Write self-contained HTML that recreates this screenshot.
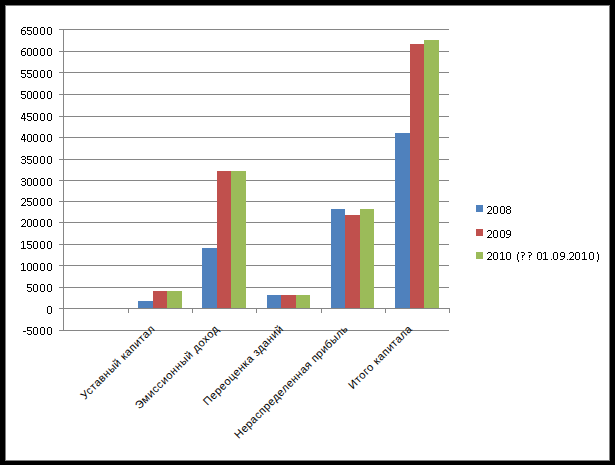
<!DOCTYPE html>
<html><head><meta charset="utf-8"><style>
html,body{margin:0;padding:0;width:615px;height:465px;overflow:hidden;background:#fff}
svg{display:block}
text{font-family:"Liberation Sans",sans-serif;font-size:11px;fill:#000;letter-spacing:0.45px}
</style></head><body>
<svg width="615" height="465" viewBox="0 0 615 465"><rect x="0" y="0" width="615" height="465" fill="#000"/><rect x="5" y="5" width="605" height="456" fill="#808080"/><rect x="6" y="6" width="603" height="454" fill="#fff"/><rect x="59" y="29" width="390" height="1" fill="#868686"/><rect x="59" y="51" width="390" height="1" fill="#868686"/><rect x="59" y="72" width="390" height="1" fill="#868686"/><rect x="59" y="94" width="390" height="1" fill="#868686"/><rect x="59" y="116" width="390" height="1" fill="#868686"/><rect x="59" y="137" width="390" height="1" fill="#868686"/><rect x="59" y="159" width="390" height="1" fill="#868686"/><rect x="59" y="180" width="390" height="1" fill="#868686"/><rect x="59" y="201" width="390" height="1" fill="#868686"/><rect x="59" y="222" width="390" height="1" fill="#868686"/><rect x="59" y="244" width="390" height="1" fill="#868686"/><rect x="59" y="265" width="390" height="1" fill="#868686"/><rect x="59" y="287" width="390" height="1" fill="#868686"/><rect x="59" y="308" width="390" height="1" fill="#868686"/><rect x="59" y="330" width="390" height="1" fill="#868686"/><rect x="138" y="301" width="15" height="7" fill="#4f81bd"/><rect x="139" y="302" width="13" height="6" fill="#4f81bd"/><rect x="153" y="291" width="14" height="17" fill="#c0504d"/><rect x="154" y="292" width="12" height="16" fill="#c0504d"/><rect x="167" y="291" width="15" height="17" fill="#9bbb59"/><rect x="168" y="292" width="13" height="16" fill="#9bbb59"/><rect x="202" y="248" width="15" height="60" fill="#4f81bd"/><rect x="203" y="249" width="13" height="59" fill="#4f81bd"/><rect x="217" y="171" width="14" height="137" fill="#c0504d"/><rect x="218" y="172" width="12" height="136" fill="#c0504d"/><rect x="231" y="171" width="15" height="137" fill="#9bbb59"/><rect x="232" y="172" width="13" height="136" fill="#9bbb59"/><rect x="267" y="295" width="14" height="13" fill="#4f81bd"/><rect x="268" y="296" width="12" height="12" fill="#4f81bd"/><rect x="281" y="295" width="15" height="13" fill="#c0504d"/><rect x="282" y="296" width="13" height="12" fill="#c0504d"/><rect x="296" y="295" width="14" height="13" fill="#9bbb59"/><rect x="297" y="296" width="12" height="12" fill="#9bbb59"/><rect x="331" y="209" width="14" height="99" fill="#4f81bd"/><rect x="332" y="210" width="12" height="98" fill="#4f81bd"/><rect x="345" y="215" width="15" height="93" fill="#c0504d"/><rect x="346" y="216" width="13" height="92" fill="#c0504d"/><rect x="360" y="209" width="14" height="99" fill="#9bbb59"/><rect x="361" y="210" width="12" height="98" fill="#9bbb59"/><rect x="395" y="133" width="15" height="175" fill="#4f81bd"/><rect x="396" y="134" width="13" height="174" fill="#4f81bd"/><rect x="410" y="44" width="14" height="264" fill="#c0504d"/><rect x="411" y="45" width="12" height="263" fill="#c0504d"/><rect x="424" y="40" width="15" height="268" fill="#9bbb59"/><rect x="425" y="41" width="13" height="267" fill="#9bbb59"/><rect x="59" y="308" width="390" height="1" fill="#868686"/><rect x="63" y="29" width="1" height="302" fill="#868686"/><rect x="128" y="308" width="1" height="5" fill="#868686"/><rect x="192" y="308" width="1" height="5" fill="#868686"/><rect x="256" y="308" width="1" height="5" fill="#868686"/><rect x="321" y="308" width="1" height="5" fill="#868686"/><rect x="385" y="308" width="1" height="5" fill="#868686"/><rect x="449" y="308" width="1" height="5" fill="#868686"/><path fill="#000" d="M23 27h3v1h-3zM22 28h1v1h-1zM21 29h1v1h-1zM21 30h4v1h-4zM21 31h1v1h-1zM25 31h1v1h-1zM21 32h1v1h-1zM25 32h1v1h-1zM21 33h1v1h-1zM25 33h1v1h-1zM22 34h3v1h-3zM27 27h5v1h-5zM27 28h1v1h-1zM27 29h1v1h-1zM27 30h4v1h-4zM31 31h1v1h-1zM31 32h1v1h-1zM27 33h1v1h-1zM31 33h1v1h-1zM28 34h3v1h-3zM34 27h3v1h-3zM33 28h1v1h-1zM37 28h1v1h-1zM33 29h1v1h-1zM37 29h1v1h-1zM33 30h1v1h-1zM37 30h1v1h-1zM33 31h1v1h-1zM37 31h1v1h-1zM33 32h1v1h-1zM37 32h1v1h-1zM33 33h1v1h-1zM37 33h1v1h-1zM34 34h3v1h-3zM41 27h3v1h-3zM40 28h1v1h-1zM44 28h1v1h-1zM40 29h1v1h-1zM44 29h1v1h-1zM40 30h1v1h-1zM44 30h1v1h-1zM40 31h1v1h-1zM44 31h1v1h-1zM40 32h1v1h-1zM44 32h1v1h-1zM40 33h1v1h-1zM44 33h1v1h-1zM41 34h3v1h-3zM48 27h3v1h-3zM47 28h1v1h-1zM51 28h1v1h-1zM47 29h1v1h-1zM51 29h1v1h-1zM47 30h1v1h-1zM51 30h1v1h-1zM47 31h1v1h-1zM51 31h1v1h-1zM47 32h1v1h-1zM51 32h1v1h-1zM47 33h1v1h-1zM51 33h1v1h-1zM48 34h3v1h-3zM23 48h3v1h-3zM22 49h1v1h-1zM21 50h1v1h-1zM21 51h4v1h-4zM21 52h1v1h-1zM25 52h1v1h-1zM21 53h1v1h-1zM25 53h1v1h-1zM21 54h1v1h-1zM25 54h1v1h-1zM22 55h3v1h-3zM28 48h3v1h-3zM27 49h1v1h-1zM31 49h1v1h-1zM27 50h1v1h-1zM31 50h1v1h-1zM27 51h1v1h-1zM31 51h1v1h-1zM27 52h1v1h-1zM31 52h1v1h-1zM27 53h1v1h-1zM31 53h1v1h-1zM27 54h1v1h-1zM31 54h1v1h-1zM28 55h3v1h-3zM34 48h3v1h-3zM33 49h1v1h-1zM37 49h1v1h-1zM33 50h1v1h-1zM37 50h1v1h-1zM33 51h1v1h-1zM37 51h1v1h-1zM33 52h1v1h-1zM37 52h1v1h-1zM33 53h1v1h-1zM37 53h1v1h-1zM33 54h1v1h-1zM37 54h1v1h-1zM34 55h3v1h-3zM41 48h3v1h-3zM40 49h1v1h-1zM44 49h1v1h-1zM40 50h1v1h-1zM44 50h1v1h-1zM40 51h1v1h-1zM44 51h1v1h-1zM40 52h1v1h-1zM44 52h1v1h-1zM40 53h1v1h-1zM44 53h1v1h-1zM40 54h1v1h-1zM44 54h1v1h-1zM41 55h3v1h-3zM48 48h3v1h-3zM47 49h1v1h-1zM51 49h1v1h-1zM47 50h1v1h-1zM51 50h1v1h-1zM47 51h1v1h-1zM51 51h1v1h-1zM47 52h1v1h-1zM51 52h1v1h-1zM47 53h1v1h-1zM51 53h1v1h-1zM47 54h1v1h-1zM51 54h1v1h-1zM48 55h3v1h-3zM21 70h5v1h-5zM21 71h1v1h-1zM21 72h1v1h-1zM21 73h4v1h-4zM25 74h1v1h-1zM25 75h1v1h-1zM21 76h1v1h-1zM25 76h1v1h-1zM22 77h3v1h-3zM27 70h5v1h-5zM27 71h1v1h-1zM27 72h1v1h-1zM27 73h4v1h-4zM31 74h1v1h-1zM31 75h1v1h-1zM27 76h1v1h-1zM31 76h1v1h-1zM28 77h3v1h-3zM34 70h3v1h-3zM33 71h1v1h-1zM37 71h1v1h-1zM33 72h1v1h-1zM37 72h1v1h-1zM33 73h1v1h-1zM37 73h1v1h-1zM33 74h1v1h-1zM37 74h1v1h-1zM33 75h1v1h-1zM37 75h1v1h-1zM33 76h1v1h-1zM37 76h1v1h-1zM34 77h3v1h-3zM41 70h3v1h-3zM40 71h1v1h-1zM44 71h1v1h-1zM40 72h1v1h-1zM44 72h1v1h-1zM40 73h1v1h-1zM44 73h1v1h-1zM40 74h1v1h-1zM44 74h1v1h-1zM40 75h1v1h-1zM44 75h1v1h-1zM40 76h1v1h-1zM44 76h1v1h-1zM41 77h3v1h-3zM48 70h3v1h-3zM47 71h1v1h-1zM51 71h1v1h-1zM47 72h1v1h-1zM51 72h1v1h-1zM47 73h1v1h-1zM51 73h1v1h-1zM47 74h1v1h-1zM51 74h1v1h-1zM47 75h1v1h-1zM51 75h1v1h-1zM47 76h1v1h-1zM51 76h1v1h-1zM48 77h3v1h-3zM21 91h5v1h-5zM21 92h1v1h-1zM21 93h1v1h-1zM21 94h4v1h-4zM25 95h1v1h-1zM25 96h1v1h-1zM21 97h1v1h-1zM25 97h1v1h-1zM22 98h3v1h-3zM28 91h3v1h-3zM27 92h1v1h-1zM31 92h1v1h-1zM27 93h1v1h-1zM31 93h1v1h-1zM27 94h1v1h-1zM31 94h1v1h-1zM27 95h1v1h-1zM31 95h1v1h-1zM27 96h1v1h-1zM31 96h1v1h-1zM27 97h1v1h-1zM31 97h1v1h-1zM28 98h3v1h-3zM34 91h3v1h-3zM33 92h1v1h-1zM37 92h1v1h-1zM33 93h1v1h-1zM37 93h1v1h-1zM33 94h1v1h-1zM37 94h1v1h-1zM33 95h1v1h-1zM37 95h1v1h-1zM33 96h1v1h-1zM37 96h1v1h-1zM33 97h1v1h-1zM37 97h1v1h-1zM34 98h3v1h-3zM41 91h3v1h-3zM40 92h1v1h-1zM44 92h1v1h-1zM40 93h1v1h-1zM44 93h1v1h-1zM40 94h1v1h-1zM44 94h1v1h-1zM40 95h1v1h-1zM44 95h1v1h-1zM40 96h1v1h-1zM44 96h1v1h-1zM40 97h1v1h-1zM44 97h1v1h-1zM41 98h3v1h-3zM48 91h3v1h-3zM47 92h1v1h-1zM51 92h1v1h-1zM47 93h1v1h-1zM51 93h1v1h-1zM47 94h1v1h-1zM51 94h1v1h-1zM47 95h1v1h-1zM51 95h1v1h-1zM47 96h1v1h-1zM51 96h1v1h-1zM47 97h1v1h-1zM51 97h1v1h-1zM48 98h3v1h-3zM23 113h2v1h-2zM23 114h2v1h-2zM22 115h1v1h-1zM24 115h1v1h-1zM22 116h1v1h-1zM24 116h1v1h-1zM21 117h1v1h-1zM24 117h1v1h-1zM21 118h5v1h-5zM24 119h1v1h-1zM24 120h1v1h-1zM27 113h5v1h-5zM27 114h1v1h-1zM27 115h1v1h-1zM27 116h4v1h-4zM31 117h1v1h-1zM31 118h1v1h-1zM27 119h1v1h-1zM31 119h1v1h-1zM28 120h3v1h-3zM34 113h3v1h-3zM33 114h1v1h-1zM37 114h1v1h-1zM33 115h1v1h-1zM37 115h1v1h-1zM33 116h1v1h-1zM37 116h1v1h-1zM33 117h1v1h-1zM37 117h1v1h-1zM33 118h1v1h-1zM37 118h1v1h-1zM33 119h1v1h-1zM37 119h1v1h-1zM34 120h3v1h-3zM41 113h3v1h-3zM40 114h1v1h-1zM44 114h1v1h-1zM40 115h1v1h-1zM44 115h1v1h-1zM40 116h1v1h-1zM44 116h1v1h-1zM40 117h1v1h-1zM44 117h1v1h-1zM40 118h1v1h-1zM44 118h1v1h-1zM40 119h1v1h-1zM44 119h1v1h-1zM41 120h3v1h-3zM48 113h3v1h-3zM47 114h1v1h-1zM51 114h1v1h-1zM47 115h1v1h-1zM51 115h1v1h-1zM47 116h1v1h-1zM51 116h1v1h-1zM47 117h1v1h-1zM51 117h1v1h-1zM47 118h1v1h-1zM51 118h1v1h-1zM47 119h1v1h-1zM51 119h1v1h-1zM48 120h3v1h-3zM23 134h2v1h-2zM23 135h2v1h-2zM22 136h1v1h-1zM24 136h1v1h-1zM22 137h1v1h-1zM24 137h1v1h-1zM21 138h1v1h-1zM24 138h1v1h-1zM21 139h5v1h-5zM24 140h1v1h-1zM24 141h1v1h-1zM28 134h3v1h-3zM27 135h1v1h-1zM31 135h1v1h-1zM27 136h1v1h-1zM31 136h1v1h-1zM27 137h1v1h-1zM31 137h1v1h-1zM27 138h1v1h-1zM31 138h1v1h-1zM27 139h1v1h-1zM31 139h1v1h-1zM27 140h1v1h-1zM31 140h1v1h-1zM28 141h3v1h-3zM34 134h3v1h-3zM33 135h1v1h-1zM37 135h1v1h-1zM33 136h1v1h-1zM37 136h1v1h-1zM33 137h1v1h-1zM37 137h1v1h-1zM33 138h1v1h-1zM37 138h1v1h-1zM33 139h1v1h-1zM37 139h1v1h-1zM33 140h1v1h-1zM37 140h1v1h-1zM34 141h3v1h-3zM41 134h3v1h-3zM40 135h1v1h-1zM44 135h1v1h-1zM40 136h1v1h-1zM44 136h1v1h-1zM40 137h1v1h-1zM44 137h1v1h-1zM40 138h1v1h-1zM44 138h1v1h-1zM40 139h1v1h-1zM44 139h1v1h-1zM40 140h1v1h-1zM44 140h1v1h-1zM41 141h3v1h-3zM48 134h3v1h-3zM47 135h1v1h-1zM51 135h1v1h-1zM47 136h1v1h-1zM51 136h1v1h-1zM47 137h1v1h-1zM51 137h1v1h-1zM47 138h1v1h-1zM51 138h1v1h-1zM47 139h1v1h-1zM51 139h1v1h-1zM47 140h1v1h-1zM51 140h1v1h-1zM48 141h3v1h-3zM22 156h3v1h-3zM21 157h1v1h-1zM25 157h1v1h-1zM25 158h1v1h-1zM22 159h3v1h-3zM25 160h1v1h-1zM25 161h1v1h-1zM21 162h1v1h-1zM25 162h1v1h-1zM22 163h3v1h-3zM27 156h5v1h-5zM27 157h1v1h-1zM27 158h1v1h-1zM27 159h4v1h-4zM31 160h1v1h-1zM31 161h1v1h-1zM27 162h1v1h-1zM31 162h1v1h-1zM28 163h3v1h-3zM34 156h3v1h-3zM33 157h1v1h-1zM37 157h1v1h-1zM33 158h1v1h-1zM37 158h1v1h-1zM33 159h1v1h-1zM37 159h1v1h-1zM33 160h1v1h-1zM37 160h1v1h-1zM33 161h1v1h-1zM37 161h1v1h-1zM33 162h1v1h-1zM37 162h1v1h-1zM34 163h3v1h-3zM41 156h3v1h-3zM40 157h1v1h-1zM44 157h1v1h-1zM40 158h1v1h-1zM44 158h1v1h-1zM40 159h1v1h-1zM44 159h1v1h-1zM40 160h1v1h-1zM44 160h1v1h-1zM40 161h1v1h-1zM44 161h1v1h-1zM40 162h1v1h-1zM44 162h1v1h-1zM41 163h3v1h-3zM48 156h3v1h-3zM47 157h1v1h-1zM51 157h1v1h-1zM47 158h1v1h-1zM51 158h1v1h-1zM47 159h1v1h-1zM51 159h1v1h-1zM47 160h1v1h-1zM51 160h1v1h-1zM47 161h1v1h-1zM51 161h1v1h-1zM47 162h1v1h-1zM51 162h1v1h-1zM48 163h3v1h-3zM22 178h3v1h-3zM21 179h1v1h-1zM25 179h1v1h-1zM25 180h1v1h-1zM22 181h3v1h-3zM25 182h1v1h-1zM25 183h1v1h-1zM21 184h1v1h-1zM25 184h1v1h-1zM22 185h3v1h-3zM28 178h3v1h-3zM27 179h1v1h-1zM31 179h1v1h-1zM27 180h1v1h-1zM31 180h1v1h-1zM27 181h1v1h-1zM31 181h1v1h-1zM27 182h1v1h-1zM31 182h1v1h-1zM27 183h1v1h-1zM31 183h1v1h-1zM27 184h1v1h-1zM31 184h1v1h-1zM28 185h3v1h-3zM34 178h3v1h-3zM33 179h1v1h-1zM37 179h1v1h-1zM33 180h1v1h-1zM37 180h1v1h-1zM33 181h1v1h-1zM37 181h1v1h-1zM33 182h1v1h-1zM37 182h1v1h-1zM33 183h1v1h-1zM37 183h1v1h-1zM33 184h1v1h-1zM37 184h1v1h-1zM34 185h3v1h-3zM41 178h3v1h-3zM40 179h1v1h-1zM44 179h1v1h-1zM40 180h1v1h-1zM44 180h1v1h-1zM40 181h1v1h-1zM44 181h1v1h-1zM40 182h1v1h-1zM44 182h1v1h-1zM40 183h1v1h-1zM44 183h1v1h-1zM40 184h1v1h-1zM44 184h1v1h-1zM41 185h3v1h-3zM48 178h3v1h-3zM47 179h1v1h-1zM51 179h1v1h-1zM47 180h1v1h-1zM51 180h1v1h-1zM47 181h1v1h-1zM51 181h1v1h-1zM47 182h1v1h-1zM51 182h1v1h-1zM47 183h1v1h-1zM51 183h1v1h-1zM47 184h1v1h-1zM51 184h1v1h-1zM48 185h3v1h-3zM22 198h3v1h-3zM21 199h1v1h-1zM25 199h1v1h-1zM25 200h1v1h-1zM25 201h1v1h-1zM24 202h1v1h-1zM23 203h1v1h-1zM22 204h1v1h-1zM21 205h5v1h-5zM27 198h5v1h-5zM27 199h1v1h-1zM27 200h1v1h-1zM27 201h4v1h-4zM31 202h1v1h-1zM31 203h1v1h-1zM27 204h1v1h-1zM31 204h1v1h-1zM28 205h3v1h-3zM34 198h3v1h-3zM33 199h1v1h-1zM37 199h1v1h-1zM33 200h1v1h-1zM37 200h1v1h-1zM33 201h1v1h-1zM37 201h1v1h-1zM33 202h1v1h-1zM37 202h1v1h-1zM33 203h1v1h-1zM37 203h1v1h-1zM33 204h1v1h-1zM37 204h1v1h-1zM34 205h3v1h-3zM41 198h3v1h-3zM40 199h1v1h-1zM44 199h1v1h-1zM40 200h1v1h-1zM44 200h1v1h-1zM40 201h1v1h-1zM44 201h1v1h-1zM40 202h1v1h-1zM44 202h1v1h-1zM40 203h1v1h-1zM44 203h1v1h-1zM40 204h1v1h-1zM44 204h1v1h-1zM41 205h3v1h-3zM48 198h3v1h-3zM47 199h1v1h-1zM51 199h1v1h-1zM47 200h1v1h-1zM51 200h1v1h-1zM47 201h1v1h-1zM51 201h1v1h-1zM47 202h1v1h-1zM51 202h1v1h-1zM47 203h1v1h-1zM51 203h1v1h-1zM47 204h1v1h-1zM51 204h1v1h-1zM48 205h3v1h-3zM22 219h3v1h-3zM21 220h1v1h-1zM25 220h1v1h-1zM25 221h1v1h-1zM25 222h1v1h-1zM24 223h1v1h-1zM23 224h1v1h-1zM22 225h1v1h-1zM21 226h5v1h-5zM28 219h3v1h-3zM27 220h1v1h-1zM31 220h1v1h-1zM27 221h1v1h-1zM31 221h1v1h-1zM27 222h1v1h-1zM31 222h1v1h-1zM27 223h1v1h-1zM31 223h1v1h-1zM27 224h1v1h-1zM31 224h1v1h-1zM27 225h1v1h-1zM31 225h1v1h-1zM28 226h3v1h-3zM34 219h3v1h-3zM33 220h1v1h-1zM37 220h1v1h-1zM33 221h1v1h-1zM37 221h1v1h-1zM33 222h1v1h-1zM37 222h1v1h-1zM33 223h1v1h-1zM37 223h1v1h-1zM33 224h1v1h-1zM37 224h1v1h-1zM33 225h1v1h-1zM37 225h1v1h-1zM34 226h3v1h-3zM41 219h3v1h-3zM40 220h1v1h-1zM44 220h1v1h-1zM40 221h1v1h-1zM44 221h1v1h-1zM40 222h1v1h-1zM44 222h1v1h-1zM40 223h1v1h-1zM44 223h1v1h-1zM40 224h1v1h-1zM44 224h1v1h-1zM40 225h1v1h-1zM44 225h1v1h-1zM41 226h3v1h-3zM48 219h3v1h-3zM47 220h1v1h-1zM51 220h1v1h-1zM47 221h1v1h-1zM51 221h1v1h-1zM47 222h1v1h-1zM51 222h1v1h-1zM47 223h1v1h-1zM51 223h1v1h-1zM47 224h1v1h-1zM51 224h1v1h-1zM47 225h1v1h-1zM51 225h1v1h-1zM48 226h3v1h-3zM22 241h2v1h-2zM21 242h1v1h-1zM23 242h1v1h-1zM23 243h1v1h-1zM23 244h1v1h-1zM23 245h1v1h-1zM23 246h1v1h-1zM23 247h1v1h-1zM21 248h5v1h-5zM27 241h5v1h-5zM27 242h1v1h-1zM27 243h1v1h-1zM27 244h4v1h-4zM31 245h1v1h-1zM31 246h1v1h-1zM27 247h1v1h-1zM31 247h1v1h-1zM28 248h3v1h-3zM34 241h3v1h-3zM33 242h1v1h-1zM37 242h1v1h-1zM33 243h1v1h-1zM37 243h1v1h-1zM33 244h1v1h-1zM37 244h1v1h-1zM33 245h1v1h-1zM37 245h1v1h-1zM33 246h1v1h-1zM37 246h1v1h-1zM33 247h1v1h-1zM37 247h1v1h-1zM34 248h3v1h-3zM41 241h3v1h-3zM40 242h1v1h-1zM44 242h1v1h-1zM40 243h1v1h-1zM44 243h1v1h-1zM40 244h1v1h-1zM44 244h1v1h-1zM40 245h1v1h-1zM44 245h1v1h-1zM40 246h1v1h-1zM44 246h1v1h-1zM40 247h1v1h-1zM44 247h1v1h-1zM41 248h3v1h-3zM48 241h3v1h-3zM47 242h1v1h-1zM51 242h1v1h-1zM47 243h1v1h-1zM51 243h1v1h-1zM47 244h1v1h-1zM51 244h1v1h-1zM47 245h1v1h-1zM51 245h1v1h-1zM47 246h1v1h-1zM51 246h1v1h-1zM47 247h1v1h-1zM51 247h1v1h-1zM48 248h3v1h-3zM22 263h2v1h-2zM21 264h1v1h-1zM23 264h1v1h-1zM23 265h1v1h-1zM23 266h1v1h-1zM23 267h1v1h-1zM23 268h1v1h-1zM23 269h1v1h-1zM21 270h5v1h-5zM28 263h3v1h-3zM27 264h1v1h-1zM31 264h1v1h-1zM27 265h1v1h-1zM31 265h1v1h-1zM27 266h1v1h-1zM31 266h1v1h-1zM27 267h1v1h-1zM31 267h1v1h-1zM27 268h1v1h-1zM31 268h1v1h-1zM27 269h1v1h-1zM31 269h1v1h-1zM28 270h3v1h-3zM34 263h3v1h-3zM33 264h1v1h-1zM37 264h1v1h-1zM33 265h1v1h-1zM37 265h1v1h-1zM33 266h1v1h-1zM37 266h1v1h-1zM33 267h1v1h-1zM37 267h1v1h-1zM33 268h1v1h-1zM37 268h1v1h-1zM33 269h1v1h-1zM37 269h1v1h-1zM34 270h3v1h-3zM41 263h3v1h-3zM40 264h1v1h-1zM44 264h1v1h-1zM40 265h1v1h-1zM44 265h1v1h-1zM40 266h1v1h-1zM44 266h1v1h-1zM40 267h1v1h-1zM44 267h1v1h-1zM40 268h1v1h-1zM44 268h1v1h-1zM40 269h1v1h-1zM44 269h1v1h-1zM41 270h3v1h-3zM48 263h3v1h-3zM47 264h1v1h-1zM51 264h1v1h-1zM47 265h1v1h-1zM51 265h1v1h-1zM47 266h1v1h-1zM51 266h1v1h-1zM47 267h1v1h-1zM51 267h1v1h-1zM47 268h1v1h-1zM51 268h1v1h-1zM47 269h1v1h-1zM51 269h1v1h-1zM48 270h3v1h-3zM27 284h5v1h-5zM27 285h1v1h-1zM27 286h1v1h-1zM27 287h4v1h-4zM31 288h1v1h-1zM31 289h1v1h-1zM27 290h1v1h-1zM31 290h1v1h-1zM28 291h3v1h-3zM34 284h3v1h-3zM33 285h1v1h-1zM37 285h1v1h-1zM33 286h1v1h-1zM37 286h1v1h-1zM33 287h1v1h-1zM37 287h1v1h-1zM33 288h1v1h-1zM37 288h1v1h-1zM33 289h1v1h-1zM37 289h1v1h-1zM33 290h1v1h-1zM37 290h1v1h-1zM34 291h3v1h-3zM41 284h3v1h-3zM40 285h1v1h-1zM44 285h1v1h-1zM40 286h1v1h-1zM44 286h1v1h-1zM40 287h1v1h-1zM44 287h1v1h-1zM40 288h1v1h-1zM44 288h1v1h-1zM40 289h1v1h-1zM44 289h1v1h-1zM40 290h1v1h-1zM44 290h1v1h-1zM41 291h3v1h-3zM48 284h3v1h-3zM47 285h1v1h-1zM51 285h1v1h-1zM47 286h1v1h-1zM51 286h1v1h-1zM47 287h1v1h-1zM51 287h1v1h-1zM47 288h1v1h-1zM51 288h1v1h-1zM47 289h1v1h-1zM51 289h1v1h-1zM47 290h1v1h-1zM51 290h1v1h-1zM48 291h3v1h-3zM48 306h3v1h-3zM47 307h1v1h-1zM51 307h1v1h-1zM47 308h1v1h-1zM51 308h1v1h-1zM47 309h1v1h-1zM51 309h1v1h-1zM47 310h1v1h-1zM51 310h1v1h-1zM47 311h1v1h-1zM51 311h1v1h-1zM47 312h1v1h-1zM51 312h1v1h-1zM48 313h3v1h-3zM23 331h3v1h-3zM27 327h5v1h-5zM27 328h1v1h-1zM27 329h1v1h-1zM27 330h4v1h-4zM31 331h1v1h-1zM31 332h1v1h-1zM27 333h1v1h-1zM31 333h1v1h-1zM28 334h3v1h-3zM34 327h3v1h-3zM33 328h1v1h-1zM37 328h1v1h-1zM33 329h1v1h-1zM37 329h1v1h-1zM33 330h1v1h-1zM37 330h1v1h-1zM33 331h1v1h-1zM37 331h1v1h-1zM33 332h1v1h-1zM37 332h1v1h-1zM33 333h1v1h-1zM37 333h1v1h-1zM34 334h3v1h-3zM41 327h3v1h-3zM40 328h1v1h-1zM44 328h1v1h-1zM40 329h1v1h-1zM44 329h1v1h-1zM40 330h1v1h-1zM44 330h1v1h-1zM40 331h1v1h-1zM44 331h1v1h-1zM40 332h1v1h-1zM44 332h1v1h-1zM40 333h1v1h-1zM44 333h1v1h-1zM41 334h3v1h-3zM48 327h3v1h-3zM47 328h1v1h-1zM51 328h1v1h-1zM47 329h1v1h-1zM51 329h1v1h-1zM47 330h1v1h-1zM51 330h1v1h-1zM47 331h1v1h-1zM51 331h1v1h-1zM47 332h1v1h-1zM51 332h1v1h-1zM47 333h1v1h-1zM51 333h1v1h-1zM48 334h3v1h-3z"/><rect x="476" y="205" width="7" height="7" fill="#4f81bd"/><rect x="476" y="229" width="7" height="7" fill="#c0504d"/><rect x="476" y="252" width="7" height="7" fill="#9bbb59"/><path fill="#000" d="M488 206h3v1h-3zM487 207h1v1h-1zM491 207h1v1h-1zM491 208h1v1h-1zM491 209h1v1h-1zM490 210h1v1h-1zM489 211h1v1h-1zM488 212h1v1h-1zM487 213h5v1h-5zM494 206h3v1h-3zM493 207h1v1h-1zM497 207h1v1h-1zM493 208h1v1h-1zM497 208h1v1h-1zM493 209h1v1h-1zM497 209h1v1h-1zM493 210h1v1h-1zM497 210h1v1h-1zM493 211h1v1h-1zM497 211h1v1h-1zM493 212h1v1h-1zM497 212h1v1h-1zM494 213h3v1h-3zM501 206h3v1h-3zM500 207h1v1h-1zM504 207h1v1h-1zM500 208h1v1h-1zM504 208h1v1h-1zM500 209h1v1h-1zM504 209h1v1h-1zM500 210h1v1h-1zM504 210h1v1h-1zM500 211h1v1h-1zM504 211h1v1h-1zM500 212h1v1h-1zM504 212h1v1h-1zM501 213h3v1h-3zM507 206h3v1h-3zM506 207h1v1h-1zM510 207h1v1h-1zM506 208h1v1h-1zM510 208h1v1h-1zM507 209h3v1h-3zM506 210h1v1h-1zM510 210h1v1h-1zM506 211h1v1h-1zM510 211h1v1h-1zM506 212h1v1h-1zM510 212h1v1h-1zM507 213h3v1h-3zM488 230h3v1h-3zM487 231h1v1h-1zM491 231h1v1h-1zM491 232h1v1h-1zM491 233h1v1h-1zM490 234h1v1h-1zM489 235h1v1h-1zM488 236h1v1h-1zM487 237h5v1h-5zM494 230h3v1h-3zM493 231h1v1h-1zM497 231h1v1h-1zM493 232h1v1h-1zM497 232h1v1h-1zM493 233h1v1h-1zM497 233h1v1h-1zM493 234h1v1h-1zM497 234h1v1h-1zM493 235h1v1h-1zM497 235h1v1h-1zM493 236h1v1h-1zM497 236h1v1h-1zM494 237h3v1h-3zM501 230h3v1h-3zM500 231h1v1h-1zM504 231h1v1h-1zM500 232h1v1h-1zM504 232h1v1h-1zM500 233h1v1h-1zM504 233h1v1h-1zM500 234h1v1h-1zM504 234h1v1h-1zM500 235h1v1h-1zM504 235h1v1h-1zM500 236h1v1h-1zM504 236h1v1h-1zM501 237h3v1h-3zM507 230h3v1h-3zM506 231h1v1h-1zM510 231h1v1h-1zM506 232h1v1h-1zM510 232h1v1h-1zM506 233h1v1h-1zM510 233h1v1h-1zM507 234h4v1h-4zM510 235h1v1h-1zM509 236h1v1h-1zM506 237h3v1h-3zM488 252h3v1h-3zM487 253h1v1h-1zM491 253h1v1h-1zM491 254h1v1h-1zM491 255h1v1h-1zM490 256h1v1h-1zM489 257h1v1h-1zM488 258h1v1h-1zM487 259h5v1h-5zM494 252h3v1h-3zM493 253h1v1h-1zM497 253h1v1h-1zM493 254h1v1h-1zM497 254h1v1h-1zM493 255h1v1h-1zM497 255h1v1h-1zM493 256h1v1h-1zM497 256h1v1h-1zM493 257h1v1h-1zM497 257h1v1h-1zM493 258h1v1h-1zM497 258h1v1h-1zM494 259h3v1h-3zM501 252h2v1h-2zM500 253h1v1h-1zM502 253h1v1h-1zM502 254h1v1h-1zM502 255h1v1h-1zM502 256h1v1h-1zM502 257h1v1h-1zM502 258h1v1h-1zM500 259h5v1h-5zM507 252h3v1h-3zM506 253h1v1h-1zM510 253h1v1h-1zM506 254h1v1h-1zM510 254h1v1h-1zM506 255h1v1h-1zM510 255h1v1h-1zM506 256h1v1h-1zM510 256h1v1h-1zM506 257h1v1h-1zM510 257h1v1h-1zM506 258h1v1h-1zM510 258h1v1h-1zM507 259h3v1h-3zM518 252h1v1h-1zM518 253h1v1h-1zM517 254h1v1h-1zM517 255h1v1h-1zM517 256h1v1h-1zM517 257h1v1h-1zM517 258h1v1h-1zM517 259h1v1h-1zM518 260h1v1h-1zM518 261h1v1h-1zM521 252h3v1h-3zM524 253h1v1h-1zM524 254h1v1h-1zM522 255h2v1h-2zM522 256h1v1h-1zM522 257h1v1h-1zM522 259h1v1h-1zM528 252h3v1h-3zM531 253h1v1h-1zM531 254h1v1h-1zM529 255h2v1h-2zM529 256h1v1h-1zM529 257h1v1h-1zM529 259h1v1h-1zM538 252h3v1h-3zM537 253h1v1h-1zM541 253h1v1h-1zM537 254h1v1h-1zM541 254h1v1h-1zM537 255h1v1h-1zM541 255h1v1h-1zM537 256h1v1h-1zM541 256h1v1h-1zM537 257h1v1h-1zM541 257h1v1h-1zM537 258h1v1h-1zM541 258h1v1h-1zM538 259h3v1h-3zM544 252h2v1h-2zM543 253h1v1h-1zM545 253h1v1h-1zM545 254h1v1h-1zM545 255h1v1h-1zM545 256h1v1h-1zM545 257h1v1h-1zM545 258h1v1h-1zM543 259h5v1h-5zM551 259h1v1h-1zM554 252h3v1h-3zM553 253h1v1h-1zM557 253h1v1h-1zM553 254h1v1h-1zM557 254h1v1h-1zM553 255h1v1h-1zM557 255h1v1h-1zM553 256h1v1h-1zM557 256h1v1h-1zM553 257h1v1h-1zM557 257h1v1h-1zM553 258h1v1h-1zM557 258h1v1h-1zM554 259h3v1h-3zM561 252h3v1h-3zM560 253h1v1h-1zM564 253h1v1h-1zM560 254h1v1h-1zM564 254h1v1h-1zM560 255h1v1h-1zM564 255h1v1h-1zM561 256h4v1h-4zM564 257h1v1h-1zM563 258h1v1h-1zM560 259h3v1h-3zM567 259h1v1h-1zM570 252h3v1h-3zM569 253h1v1h-1zM573 253h1v1h-1zM573 254h1v1h-1zM573 255h1v1h-1zM572 256h1v1h-1zM571 257h1v1h-1zM570 258h1v1h-1zM569 259h5v1h-5zM576 252h3v1h-3zM575 253h1v1h-1zM579 253h1v1h-1zM575 254h1v1h-1zM579 254h1v1h-1zM575 255h1v1h-1zM579 255h1v1h-1zM575 256h1v1h-1zM579 256h1v1h-1zM575 257h1v1h-1zM579 257h1v1h-1zM575 258h1v1h-1zM579 258h1v1h-1zM576 259h3v1h-3zM583 252h2v1h-2zM582 253h1v1h-1zM584 253h1v1h-1zM584 254h1v1h-1zM584 255h1v1h-1zM584 256h1v1h-1zM584 257h1v1h-1zM584 258h1v1h-1zM582 259h5v1h-5zM590 252h3v1h-3zM589 253h1v1h-1zM593 253h1v1h-1zM589 254h1v1h-1zM593 254h1v1h-1zM589 255h1v1h-1zM593 255h1v1h-1zM589 256h1v1h-1zM593 256h1v1h-1zM589 257h1v1h-1zM593 257h1v1h-1zM589 258h1v1h-1zM593 258h1v1h-1zM590 259h3v1h-3zM597 252h1v1h-1zM597 253h1v1h-1zM598 254h1v1h-1zM598 255h1v1h-1zM598 256h1v1h-1zM598 257h1v1h-1zM598 258h1v1h-1zM598 259h1v1h-1zM597 260h1v1h-1zM597 261h1v1h-1z"/><text x="155.5" y="329.5" text-anchor="end" style="letter-spacing:0.45px" transform="rotate(-45 155.5 329.5)">Уставный капитал</text><text x="219.8" y="329.5" text-anchor="end" style="letter-spacing:0.56px" transform="rotate(-45 219.8 329.5)">Эмиссионный доход</text><text x="284.2" y="329.5" text-anchor="end" style="letter-spacing:0.45px" transform="rotate(-45 284.2 329.5)">Переоценка зданий</text><text x="348.5" y="329.5" text-anchor="end" style="letter-spacing:0.37px" transform="rotate(-45 348.5 329.5)">Нераспределенная прибыль</text><text x="412.8" y="329.5" text-anchor="end" style="letter-spacing:0.45px" transform="rotate(-45 412.8 329.5)">Итого капитала</text></svg>
</body></html>
